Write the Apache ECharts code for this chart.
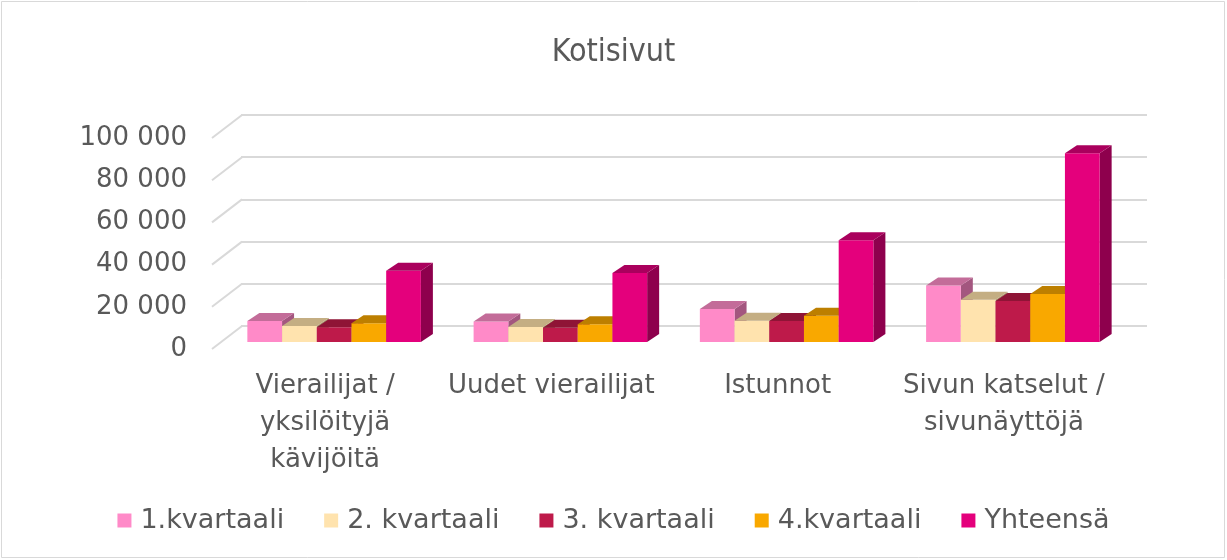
<!DOCTYPE html>
<html>
<head>
<meta charset="utf-8">
<script src="https://cdn.jsdelivr.net/npm/echarts@6/dist/echarts.min.js"></script>
<style>html,body{margin:0;padding:0;background:#fff}#c{width:1227px;height:560px}</style>
</head>
<body>
<div id="c"></div>
<script>
const title = "Kotisivut";
const categories = ["Vierailijat /\nyksilöityjä\nkävijöitä", "Uudet vierailijat", "Istunnot", "Sivun katselut /\nsivunäyttöjä"];
const seriesNames = ["1.kvartaali", "2. kvartaali", "3. kvartaali", "4.kvartaali", "Yhteensä"];
const q1 = [10000, 9700, 15600, 26800];
const q2 = [7600, 7100, 10100, 20000];
const q3 = [7000, 6800, 10000, 19400];
const q4 = [8900, 8400, 12400, 22700];
const total = [33800, 32700, 48200, 89400];
const yTicks = [0, 20000, 40000, 60000, 80000, 100000];

const seriesData = [q1, q2, q3, q4, total];
const fronts = ["#FF8AC8", "#FFE3AE", "#BE1A4A", "#F9A800", "#E4007C"];
const tops   = ["#C36C99", "#C4AE83", "#8F1436", "#BD7F00", "#AA005D"];
const sides  = ["#A3567F", "#A8946E", "#77102D", "#9E6A00", "#8E004D"];

const FONT = "'DejaVu Sans', sans-serif";
const TXT = "#595959";
const DX = 12, DY = 8;        // bar depth projection
const NB = seriesNames.length;
const FILL = 0.767;           // share of category occupied by bars

const chart = echarts.init(document.getElementById('c'), null, {renderer: 'canvas'});

function barRender(si) {
  return function (params, api) {
    const c = api.value(0), v = api.value(1);
    const base = api.coord([c, 0]);
    const top = api.coord([c, v]);
    const band = api.size([1, 0])[0];
    const bw = band * FILL / NB;
    const x0 = base[0] - bw * NB / 2 + si * bw;
    const y0 = base[1], y1 = top[1];
    return {
      type: 'group',
      children: [
        {type: 'polygon', shape: {points: [[x0 + bw, y1], [x0 + bw + DX, y1 - DY], [x0 + bw + DX, y0 - DY], [x0 + bw, y0]]}, style: {fill: sides[si]}},
        {type: 'rect', shape: {x: x0, y: y1, width: bw, height: y0 - y1}, style: {fill: fronts[si]}},
        {type: 'polygon', shape: {points: [[x0, y1], [x0 + bw, y1], [x0 + bw + DX, y1 - DY], [x0 + DX, y1 - DY]]}, style: {fill: tops[si]}}
      ]
    };
  };
}

const fmt = v => String(v).replace(/\B(?=(\d{3})+(?!\d))/g, ' ');

const series = [
  // diagonal side-wall lines, from front plane to back wall
  {
    type: 'custom', xAxisIndex: 1, yAxisIndex: 1, silent: true, z: 1,
    data: yTicks.map(v => [0, v]),
    renderItem: function (params, api) {
      const p = api.coord([0, api.value(1)]);
      const half = api.size([1, 0])[0] / 2;
      const x = p[0] - half;
      return {type: 'line', shape: {x1: x, y1: p[1], x2: x + 30, y2: p[1] - 23}, style: {stroke: '#D9D9D9', lineWidth: 2}};
    }
  }
];
seriesData.forEach((arr, si) => {
  series.push({
    name: seriesNames[si], type: 'custom', xAxisIndex: 2, yAxisIndex: 2, z: 5,
    itemStyle: {color: fronts[si]},
    data: arr.map((v, i) => [i, v]),
    renderItem: barRender(si)
  });
});

chart.setOption({
  animation: false,
  backgroundColor: '#ffffff',
  title: {text: title, left: 'center', top: 32, textStyle: {fontFamily: "'Liberation Sans Narrow', 'DejaVu Sans Condensed', sans-serif", fontSize: 32, fontWeight: 'normal', color: TXT}},
  legend: {
    bottom: 21, left: 'center', icon: 'rect', itemWidth: 14, itemHeight: 14, itemGap: 40,
    textStyle: {fontFamily: FONT, fontSize: 27, color: TXT, padding: [0, 0, 0, 4]},
    data: seriesNames
  },
  graphic: [{type: 'rect', shape: {x: 1.5, y: 1.5, width: 1223, height: 556}, style: {fill: null, stroke: '#D9D9D9', lineWidth: 1}, silent: true}],
  grid: [
    {left: 241, right: 80, top: 115, bottom: 234},   // back wall
    {left: 212, right: 110, top: 138, bottom: 211},  // front plane (labels)
    {left: 221, right: 101, top: 131, bottom: 218}   // bar plane
  ],
  xAxis: [
    {gridIndex: 0, type: 'category', data: categories, show: false},
    {gridIndex: 1, type: 'category', data: categories, axisLine: {show: false}, axisTick: {show: false},
      axisLabel: {fontFamily: FONT, fontSize: 26, color: TXT, lineHeight: 37, margin: 19, interval: 0}},
    {gridIndex: 2, type: 'category', data: categories, show: false}
  ],
  yAxis: [
    {gridIndex: 0, type: 'value', min: 0, max: 100000, interval: 20000, axisLabel: {show: false}, axisLine: {show: false}, axisTick: {show: false},
      splitLine: {lineStyle: {color: '#D9D9D9', width: 2}}},
    {gridIndex: 1, type: 'value', min: 0, max: 100000, interval: 20000, axisLine: {show: false}, axisTick: {show: false}, splitLine: {show: false},
      axisLabel: {fontFamily: FONT, fontSize: 26, color: TXT, margin: 25, formatter: fmt}},
    {gridIndex: 2, type: 'value', min: 0, max: 100000, interval: 20000, show: false, splitLine: {show: false}}
  ],
  series: series
});
</script>
</body>
</html>
